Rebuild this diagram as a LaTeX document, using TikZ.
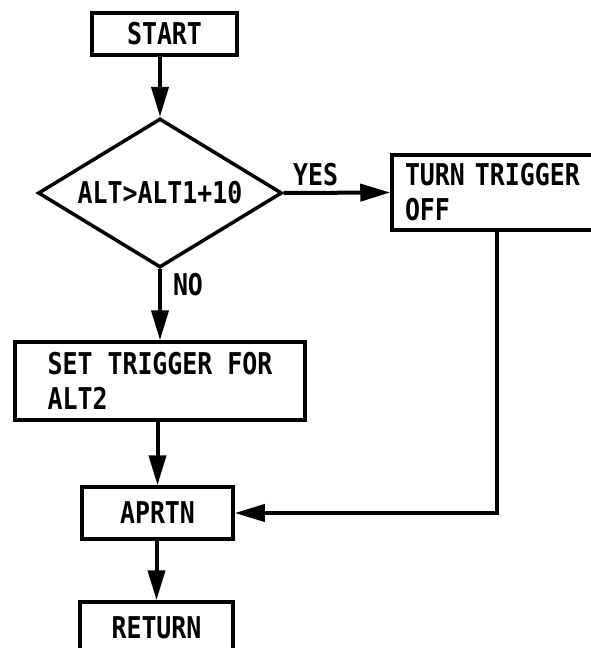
\documentclass[tikz,border=0pt]{standalone}
\usepackage{fontspec}
\setmainfont{DejaVu Sans Mono}[FakeStretch=0.83, BoldFont={DejaVu Sans Mono Bold}]
\usetikzlibrary{shapes.geometric,arrows.meta}
\begin{document}
\begin{tikzpicture}[x=1pt,y=-1pt,
  every node/.style={font=\fontsize{30}{35}\selectfont\bfseries},
  box/.style={draw, line width=3.5pt, inner sep=0pt, align=left},
  decision/.style={draw, diamond, line width=3.5pt, inner sep=0pt,
    aspect=1.64, minimum width=244pt, minimum height=149pt},
  conn/.style={line width=4pt, -{Triangle[length=30pt,width=17pt]}},
  tag/.style={inner sep=1pt}]
\useasboundingbox (0,0) rectangle (590,648);

% process blocks
\node[box, minimum width=145pt, minimum height=42pt] (start) at (164.5,34) {START};
\node[decision] (dia) at (160,193) {ALT>ALT1+10};
\node[box, minimum width=290pt, minimum height=78pt] (set) at (160,381) {SET TRIGGER FOR\\ALT2};
\node[box, text width=184pt, inner xsep=13pt, minimum height=75pt] (turn) at (497,192.5) {TURN TRIGGER\\OFF};
\node[box, minimum width=151pt, minimum height=52pt] (aprtn) at (157.5,513) {APRTN};
\node[box, minimum width=153pt, minimum height=52pt] (ret) at (156.5,628) {RETURN};

% flow lines
\draw[conn] (start.south -| dia.north) -- (dia.north);
\draw[conn] (dia.east) -- node[tag, pos=0.3, above=4pt] (yes) {YES} (turn.west);
\draw[conn] (dia.south) -- node[tag, pos=0.22, right=10pt] (no) {NO} (set.north);
\draw[conn] (set.south -| aprtn.north) -- (aprtn.north);
\draw[conn] (turn.south) |- (aprtn.east);
\draw[conn] (aprtn.south -| ret.north) -- (ret.north);
\end{tikzpicture}
\end{document}
